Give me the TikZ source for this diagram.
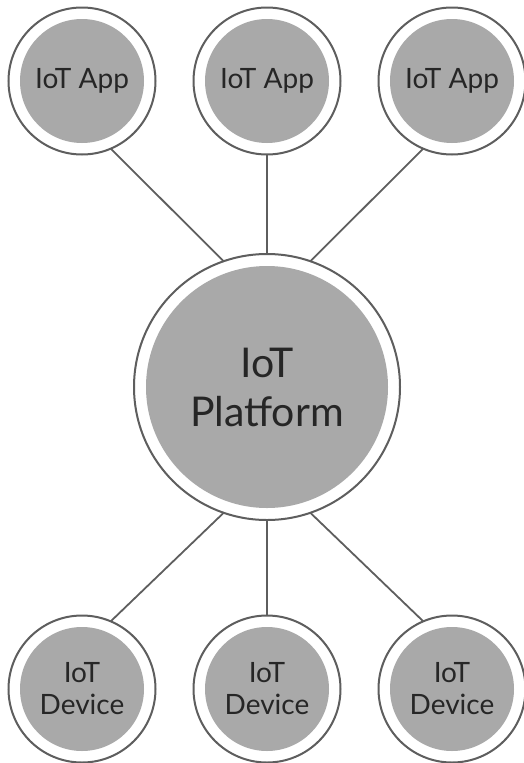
\documentclass[tikz,border=0pt]{standalone}
\usepackage{fontspec}
\setmainfont{Lato}
\definecolor{ringc}{HTML}{5E5E5E}
\definecolor{fillc}{HTML}{A9A9A9}
\definecolor{txtc}{HTML}{262626}
\begin{document}
\begin{tikzpicture}[x=1pt,y=-1pt,
  ringnode/.style={circle, draw=ringc, line width=2pt, fill=white, outer sep=0pt, inner sep=0pt,
     align=center, text=txtc},
  smallnode/.style={ringnode, minimum size=147pt, font=\fontsize{28}{32}\selectfont,
     path picture={\fill[fillc] (path picture bounding box.center) circle (62pt);}},
  bignode/.style={ringnode, minimum size=266pt, font=\fontsize{41}{49}\selectfont,
     path picture={\fill[fillc] (path picture bounding box.center) circle (121pt);}},
  link/.style={draw=ringc, line width=1.8pt}]
\useasboundingbox (0,0) rectangle (523,763);
\node[bignode] (plat) at (267,387) {IoT\\Platform};
\node[smallnode] (app1) at (82,81) {IoT App};
\node[smallnode] (app2) at (267,81) {IoT App};
\node[smallnode] (app3) at (452,81) {IoT App};
\node[smallnode] (dev1) at (82,689) {IoT\\Device};
\node[smallnode] (dev2) at (267,689) {IoT\\Device};
\node[smallnode] (dev3) at (452,689) {IoT\\Device};
\draw[link] (app1.-67) -- (plat.109);
\draw[link] (app2.south) -- (plat.north);
\draw[link] (app3.-113) -- (plat.71);
\draw[link] (dev1.67) -- (plat.-109);
\draw[link] (dev2.north) -- (plat.south);
\draw[link] (dev3.113) -- (plat.-71);
\end{tikzpicture}
\end{document}
